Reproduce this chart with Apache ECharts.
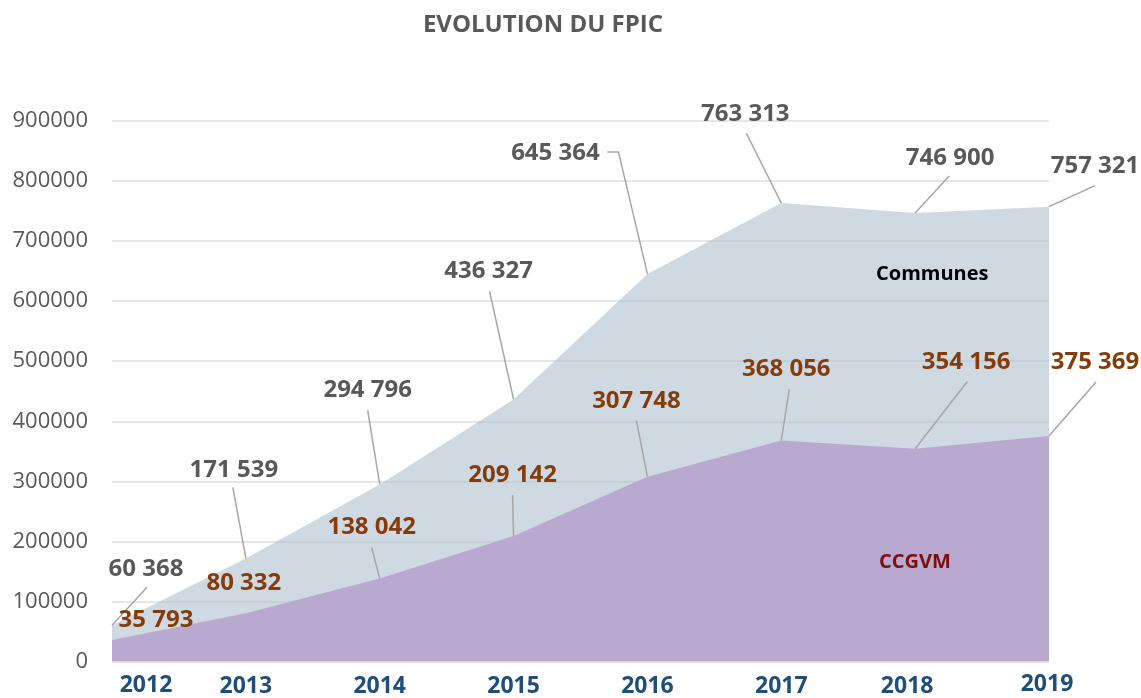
<!DOCTYPE html>
<html>
<head>
  <meta charset="utf-8">
  <title>EVOLUTION DU FPIC</title>
  <script src="https://cdn.jsdelivr.net/npm/echarts@6.0.0/dist/echarts.min.js"></script>
  <style>
    body { margin: 0; background: #FFFFFF; }
    #chart { width: 1141px; height: 698px; }
  </style>
</head>
<body>
  <div id="chart"></div>
  <script>
    // données
    var years = ['2012', '2013', '2014', '2015', '2016', '2017', '2018', '2019'];
    var communes = [60368, 171539, 294796, 436327, 645364, 763313, 746900, 757321];
    var ccgvm = [35793, 80332, 138042, 209142, 307748, 368056, 354156, 375369];
    var yTicks = { min: 0, max: 900000, interval: 100000 };

    // placement des étiquettes (décalage en px par rapport au point)
    var comText = [[34, -56], [-12, -88], [-12, -94], [-25, -128], [-92, -121], [-36, -89], [35, -55], [46, -41]];
    var comLine = [[[35, -38]], [[-13, -71]], [[-12, -74]], [[-24, -108]], [[-40, -122], [-29, -122]], [[-35, -70]], [[34, -37]], [[46, -21]]];
    var ccText = [[44, -20], [-2, -30], [-8, -51], [-1, -61], [-11, -76], [5, -71], [51, -87], [46, -74]];
    var ccLine = [null, null, [[-8, -31]], [[-1, -41]], [[-11, -56]], [[8, -51]], [[52, -67]], [[47, -54]]];

    var fmt = function (v) {
      return String(v).replace(/\B(?=(\d{3})+(?!\d))/g, ' ');
    };

    var annot = function (values, texts, lines, color) {
      return {
        type: 'custom',
        z: 10,
        silent: true,
        data: values.map(function (v, i) { return [i, v]; }),
        renderItem: function (params, api) {
          var i = params.dataIndex;
          var p = api.coord([api.value(0), api.value(1)]);
          var children = [];
          if (lines[i]) {
            var pts = lines[i].map(function (o) { return [p[0] + o[0], p[1] + o[1]]; });
            pts.push([p[0], p[1]]);
            children.push({
              type: 'polyline',
              shape: { points: pts },
              style: { stroke: '#a6a6a6', lineWidth: 1.5, fill: null }
            });
          }
          children.push({
            type: 'text',
            style: {
              x: p[0] + texts[i][0],
              y: p[1] + texts[i][1],
              text: fmt(api.value(1)),
              fill: color,
              font: 'bold 24px "Open Sans"',
              textAlign: 'center',
              textVerticalAlign: 'middle'
            }
          });
          return { type: 'group', children: children };
        }
      };
    };

    var yearStyle = function (padding) {
      return { color: '#1f4e79', fontSize: 23, fontWeight: 'bold', fontFamily: 'Open Sans', lineHeight: 24, padding: padding };
    };

    var chart = echarts.init(document.getElementById('chart'));
    chart.setOption({
      animation: false,
      backgroundColor: '#FFFFFF',
      title: {
        text: 'EVOLUTION DU FPIC',
        left: 538,
        top: 8,
        textAlign: 'center',
        textStyle: { color: '#595959', fontSize: 24, fontWeight: 'bold', fontFamily: 'Open Sans' }
      },
      grid: { left: 112, right: 92, top: 121, bottom: 36 },
      xAxis: {
        type: 'category',
        data: years,
        boundaryGap: false,
        axisLine: { show: false },
        axisTick: { show: false },
        axisLabel: {
          interval: 0,
          margin: 11,
          formatter: function (v, i) {
            if (i === 0) return '{first|' + v + '}';
            if (i === 6) return '{r18|' + v + '}';
            if (i === 7) return '{last|' + v + '}';
            return '{y|' + v + '}';
          },
          rich: {
            y: yearStyle([4, 0, 0, 0]),
            first: yearStyle([2, 0, 0, 68]),
            r18: yearStyle([3, 16, 0, 0]),
            last: yearStyle([0, 4, 0, 0])
          }
        }
      },
      yAxis: {
        type: 'value',
        min: yTicks.min,
        max: yTicks.max,
        interval: yTicks.interval,
        axisLine: { show: false },
        axisTick: { show: false },
        axisLabel: {
          margin: 24,
          color: '#595959',
          fontSize: 22,
          fontFamily: 'Open Sans',
          formatter: function (v) { return String(v); }
        },
        splitLine: { lineStyle: { color: '#e6e6e6', width: 2 } }
      },
      graphic: [
        { type: 'text', z: 100, left: 932 - 56, top: 264, style: { text: 'Communes', fill: '#000000', font: 'bold 20px "Open Sans"' } },
        { type: 'text', z: 100, left: 917 - 38, top: 552, style: { text: 'CCGVM', fill: '#7f0f0f', font: 'bold 20px "Open Sans"' } }
      ],
      series: [
        {
          name: 'Communes',
          type: 'line',
          data: communes,
          symbol: 'none',
          lineStyle: { width: 0, opacity: 0 },
          areaStyle: { color: 'rgba(175, 192, 207, 0.6)', opacity: 1 }
        },
        {
          name: 'CCGVM',
          type: 'line',
          data: ccgvm,
          symbol: 'none',
          lineStyle: { width: 0, opacity: 0 },
          areaStyle: { color: '#b9a9d0', opacity: 1 }
        },
        annot(communes, comText, comLine, '#595959'),
        annot(ccgvm, ccText, ccLine, '#843c0c')
      ]
    });
  </script>
</body>
</html>
